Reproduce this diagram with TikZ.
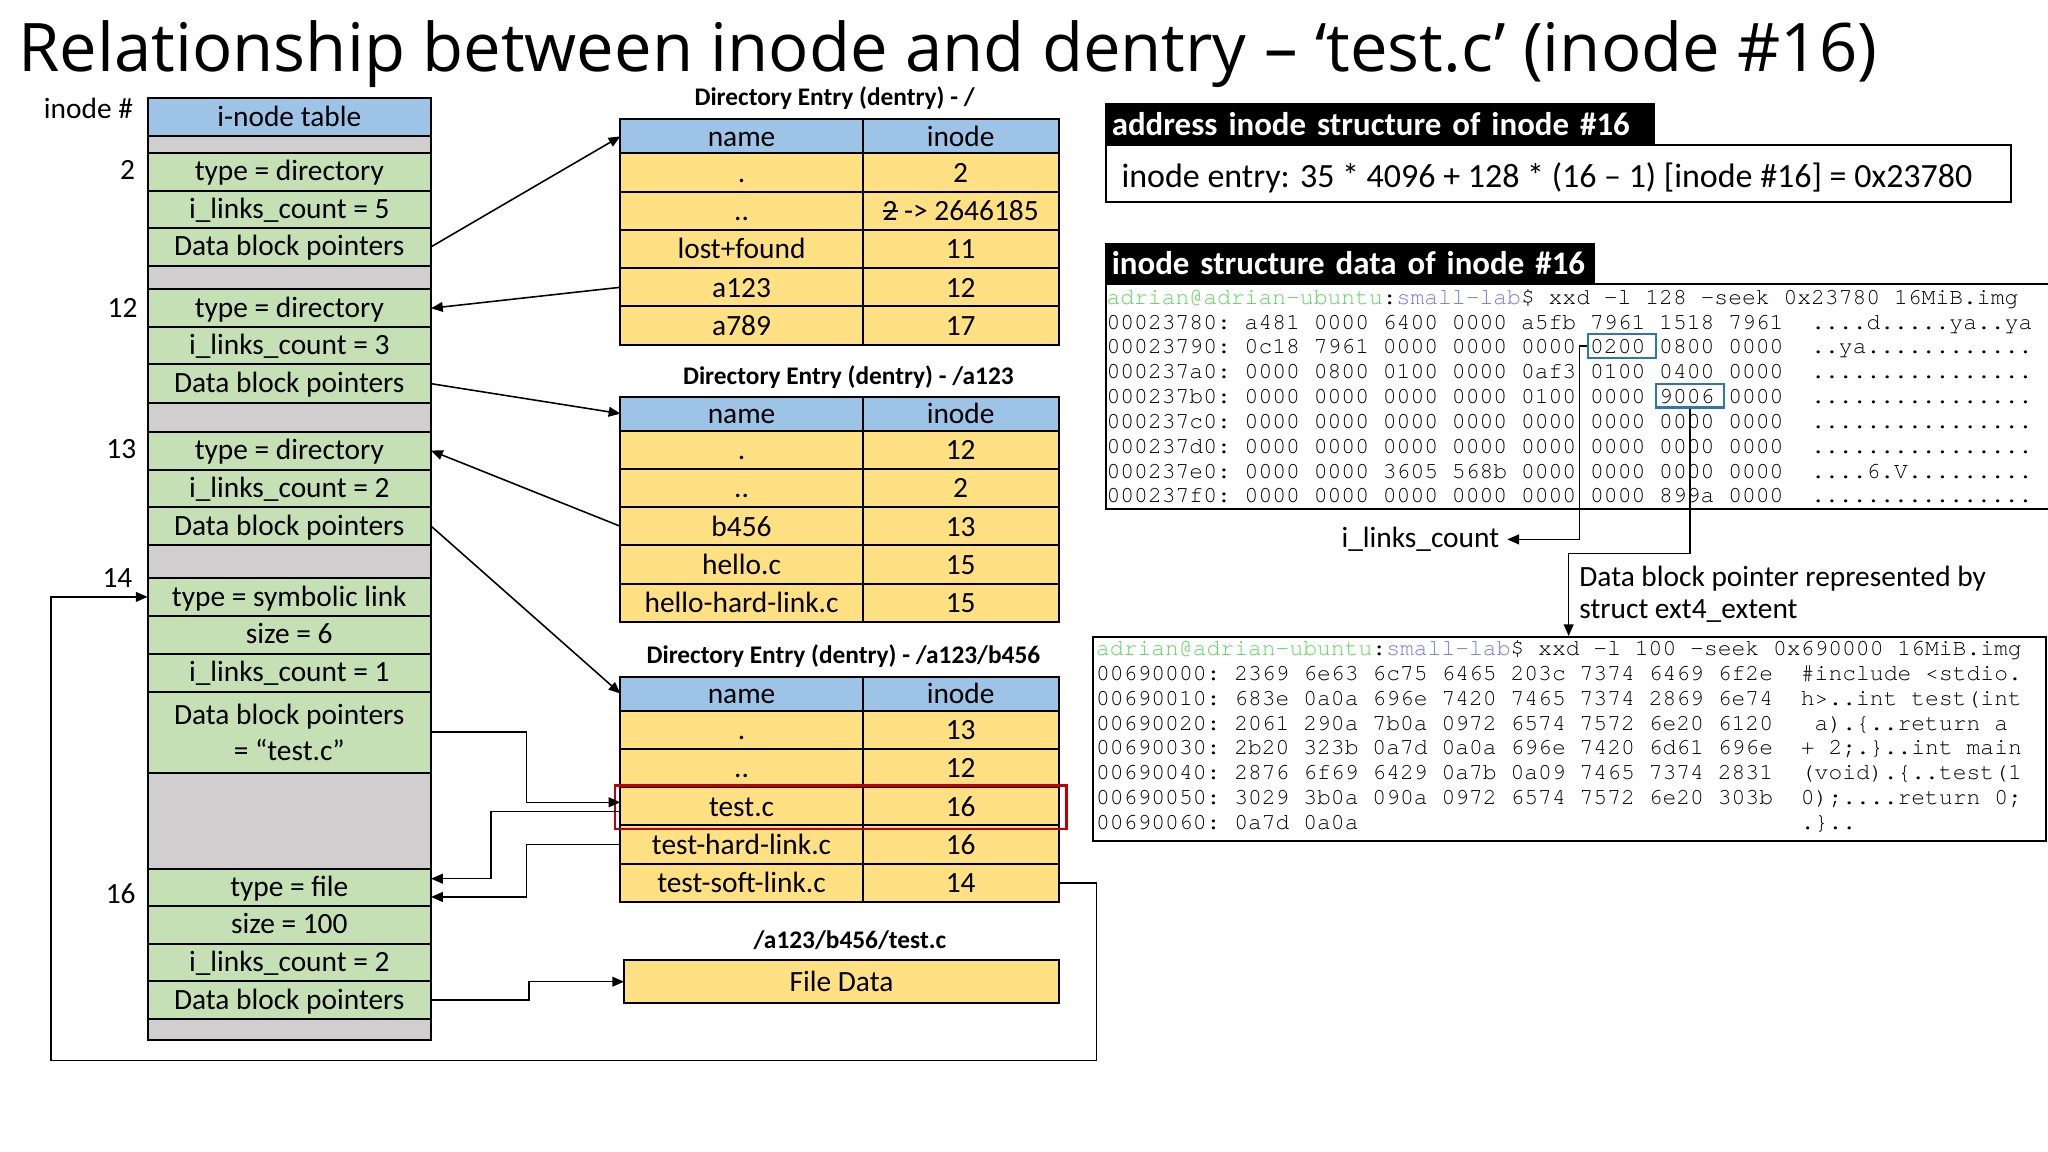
\documentclass[tikz,border=0pt]{standalone}
\usepackage{fontspec}
\setmainfont{Carlito}
\setmonofont{TeX Gyre Cursor}
\newfontfamily\mybigfont{Open Sans}
\usetikzlibrary{arrows.meta,calc}
\definecolor{hdrblue}{HTML}{9DC3E6}
\definecolor{cellgreen}{HTML}{C5E0B4}
\definecolor{cellgray}{HTML}{D0CECE}
\definecolor{cellyellow}{HTML}{FFE083}
\definecolor{hlred}{HTML}{C00000}
\definecolor{hlblue}{HTML}{2E75B6}
\definecolor{termgreen}{HTML}{5CD65C}
\definecolor{termpurple}{HTML}{7878E6}
\newcommand\tabfont{\fontsize{22.5}{27.5}\selectfont}
\newcommand\ttlfont{\bfseries\fontsize{19.4}{23}\selectfont}
\newcommand\lblfont{\bfseries\fontsize{25.2}{30}\selectfont}
\newcommand\addrfont{\fontsize{26}{30}\selectfont}
\newcommand\hexfont{\ttfamily\fontsize{17.63}{19}\selectfont}
\newcommand\bigttl{\mybigfont\fontsize{51.3}{60}\selectfont}
\newcommand\icell[5]{\node[#4, minimum height={#3-#2}] (#1) at (221.5,{(#2+#3)/2}) {#5};}
\newcommand\dhead[2]{%
  \node[dcell, fill=hdrblue, minimum width=185.5, minimum height=26, anchor=north west] (#1nh) at (475,#2) {name};
  \node[dcell, fill=hdrblue, minimum width=150, minimum height=26, anchor=north west] (#1ih) at (660.5,#2) {inode};}
\newcommand\drow[5]{%
  \node[dcell, minimum width=185.5, minimum height=29.3, anchor=north west] (#1n#2) at (475,#3) {#4};
  \node[dcell, minimum width=150, minimum height=29.3, anchor=north west] (#1i#2) at (660.5,#3) {#5};}
\begin{document}
\begin{tikzpicture}[x=1pt,y=-1pt,
  cellbase/.style={draw, line width=1.5pt, inner sep=0pt, outer sep=0pt, minimum width=217pt, font=\tabfont},
  igreen/.style={cellbase, fill=cellgreen, text height=16.6pt, text depth=2.6pt},
  igreentwo/.style={cellbase, fill=cellgreen, align=center},
  igray/.style={cellbase, fill=cellgray},
  ihead/.style={cellbase, fill=hdrblue, text height=16.6pt, text depth=2.6pt},
  dcell/.style={draw, line width=1.5pt, inner sep=0pt, outer sep=0pt, fill=cellyellow, font=\tabfont, text height=17.6pt, text depth=2.4pt},
  lbl/.style={inner sep=0pt, font=\tabfont},
  ttl/.style={inner sep=0pt, font=\ttlfont},
  arr/.style={line width=1.2pt, -{Triangle[length=9pt,width=7.5pt]}},
  hex/.style={inner sep=0pt, anchor=base west, font=\hexfont},
  blk/.style={fill=black, text=white, font=\lblfont, anchor=north west, inner xsep=5pt, inner ysep=0pt, align=left, minimum height=31pt},
  hlbox/.style={draw=hlblue, line width=1.6pt, minimum width=52pt, minimum height=18pt, inner sep=0pt}
]
\fill[white] (0,0) rectangle (1568,882);
\useasboundingbox (0,0) rectangle (1568,882);

% title
\node[anchor=base west, inner sep=0pt, font=\bigttl] (title) at (14,55) {Relationship between inode and dentry – ‘test.c’ (inode \#16)};

% inode numbers
\node[lbl, anchor=east] (lblinode) at (102,83) {inode \#};
\node[lbl, anchor=east] (n2) at (103.5,130) {2};
\node[lbl, anchor=east] (n12) at (105.5,236) {12};
\node[lbl, anchor=east] (n13) at (104.5,344) {13};
\node[lbl, anchor=east] (n14) at (101.5,442.5) {14};
\node[lbl, anchor=east] (n16) at (104,684) {16};

% inode table
\icell{hdr}{75}{104}{ihead}{i-node table}
\icell{g1}{104}{117}{igray}{}
\icell{a2}{117}{146}{igreen}{type = directory}
\icell{b2}{146}{174.5}{igreen}{i\_links\_count = 5}
\icell{c2}{174.5}{203.5}{igreen}{Data block pointers}
\icell{g2}{203.5}{221.5}{igray}{}
\icell{a12}{221.5}{250.5}{igreen}{type = directory}
\icell{b12}{250.5}{279}{igreen}{i\_links\_count = 3}
\icell{c12}{279}{308.5}{igreen}{Data block pointers}
\icell{g3}{308.5}{330.5}{igray}{}
\icell{a13}{330.5}{359.5}{igreen}{type = directory}
\icell{b13}{359.5}{388}{igreen}{i\_links\_count = 2}
\icell{c13}{388}{417.5}{igreen}{Data block pointers}
\icell{g4}{417.5}{442.5}{igray}{}
\icell{a14}{442.5}{471.5}{igreen}{type = symbolic link}
\icell{b14}{471.5}{500.5}{igreen}{size = 6}
\icell{c14}{500.5}{529.5}{igreen}{i\_links\_count = 1}
\icell{d14}{529.5}{591.5}{igreentwo}{Data block pointers\\= “test.c”}
\icell{g5}{591.5}{665}{igray}{}
\icell{a16}{665}{693.5}{igreen}{type = file}
\icell{b16}{693.5}{722.5}{igreen}{size = 100}
\icell{c16}{722.5}{751}{igreen}{i\_links\_count = 2}
\icell{d16}{751}{780.5}{igreen}{Data block pointers}
\icell{g6}{780.5}{796}{igray}{}

% dentry /
\node[ttl] (t1) at (639,75.3) {Directory Entry (dentry) - /};
\dhead{p}{91.4}
\drow{p}{1}{117.4}{.}{2}
\drow{p}{2}{146.7}{..}{{\makebox[0pt][l]{\rule[0.3em]{0.52em}{0.07em}}2} -> 2646185}
\drow{p}{3}{176.0}{lost+found}{11}
\drow{p}{4}{205.3}{a123}{12}
\drow{p}{5}{234.6}{a789}{17}

% dentry /a123
\node[ttl] (t2) at (649.5,288.4) {Directory Entry (dentry) - /a123};
\dhead{q}{303.7}
\drow{q}{1}{329.7}{.}{12}
\drow{q}{2}{359.0}{..}{2}
\drow{q}{3}{388.3}{b456}{13}
\drow{q}{4}{417.6}{hello.c}{15}
\drow{q}{5}{446.9}{hello-hard-link.c}{15}

% dentry /a123/b456
\node[ttl] (t3) at (645.7,502.3) {Directory Entry (dentry) - /a123/b456};
\dhead{r}{518}
\drow{r}{1}{544}{.}{13}
\drow{r}{2}{573.3}{..}{12}
\drow{r}{3}{602.6}{test.c}{16}
\drow{r}{4}{631.9}{test-hard-link.c}{16}
\drow{r}{5}{661.2}{test-soft-link.c}{14}
\node[draw=hlred, line width=2pt, minimum width=345.8pt, minimum height=33.2pt, inner sep=0pt] (hl) at (643.8,618.1) {};

% file data
\node[ttl] (t4) at (650.7,719.7) {/a123/b456/test.c};
\node[dcell, minimum width=333pt, minimum height=33.2pt] (fd) at (644.3,751.6) {File Data};

% connectors
\draw[arr] (c2.east) -- (pnh.west);
\draw[arr] (pn4.west) -- (a12.east);
\draw[arr] (c12.east) -- (qnh.west);
\draw[arr] (qn3.west) -- (a13.east);
\draw[arr] (c13.east) -- (rnh.west);
\draw[arr] (d14.east) -- ++(73,0) |- ([yshift=3pt]rn3.west);
\draw[arr] ([yshift=-4pt]rn3.west) -- ++(-99,0) |- ([yshift=6.5pt]a16.east);
\draw[arr] (rn4.west) -- ++(-72,0) |- ([yshift=-7.5pt]a16.east);
\draw[arr] (d16.east) -- ++(75,0) |- (fd.west);
\coordinate (loopc) at (39,812);
\draw[arr] (ri5.east) -- ++(29,0) |- (loopc) |- (a14.west);

% right side: address
\node[blk, text width=411pt] (addrlbl) at (846,79) {\mbox{address inode structure of inode \#16}};
\node[draw, line width=1.5pt, minimum width=693pt, minimum height=44pt, anchor=north west, inner sep=0pt] (addrbox) at (846,110) {};
\node[anchor=west, inner sep=0pt, font=\addrfont] (addrtxt) at (858.5,136.5) {inode entry: 35 * 4096 + 128 * (16 – 1) [inode \#16] = 0x23780};

% inode structure data
\node[blk, text width=365pt] (datalbl) at (846,186) {\mbox{inode structure data of inode \#16}};
\node[draw, line width=1.5pt, minimum width=724pt, minimum height=172pt, anchor=north west, inner sep=0pt] (hex1) at (846,217) {};
\node[hex] (h1cmd) at (847,233) {\textcolor{termgreen}{adrian@adrian-ubuntu}:\textcolor{termpurple}{small-lab}\$ xxd -l 128 -seek 0x23780 16MiB.img};
\foreach \hx/\as [count=\k] in {
  {00023780: a481 0000 6400 0000 a5fb 7961 1518 7961}/{....d.....ya..ya},
  {00023790: 0c18 7961 0000 0000 0000 0200 0800 0000}/{..ya............},
  {000237a0: 0000 0800 0100 0000 0af3 0100 0400 0000}/{................},
  {000237b0: 0000 0000 0000 0000 0100 0000 9006 0000}/{................},
  {000237c0: 0000 0000 0000 0000 0000 0000 0000 0000}/{................},
  {000237d0: 0000 0000 0000 0000 0000 0000 0000 0000}/{................},
  {000237e0: 0000 0000 3605 568b 0000 0000 0000 0000}/{....6.V.........},
  {000237f0: 0000 0000 0000 0000 0000 0000 899a 0000}/{................}}
{
  \node[hex] (h1x\k) at (847,{233+19*\k}) {\hx};
  \node[hex] (h1a\k) at ({847+51*10.58},{233+19*\k}) {\as};
}
\node[hlbox] (b0200) at (1242,265) {};
\node[hlbox] (b9006) at (1294,303) {};

\node[lbl, anchor=east, text height=16pt, text depth=3pt] (ilc) at (1148,413) {i\_links\_count};
\draw[arr] (b0200.west) -- ++(-6,0) |- ([xshift=6pt]ilc.east);

\node[anchor=west, inner sep=0pt, align=left, font=\fontsize{22.5}{24.2}\selectfont] (dbl) at (1209,455) {Data block pointer represented by\\struct ext4\_extent};

% file content dump
\node[draw, line width=1.5pt, minimum width=730pt, minimum height=156pt, anchor=north west, inner sep=0pt] (hex2) at (836,487) {};
\coordinate (dbptip) at (1201,487);
\draw[arr] (b9006.south) -- ++(0,111) -| (dbptip);
\node[hex] (h2cmd) at (839,502) {\textcolor{termgreen}{adrian@adrian-ubuntu}:\textcolor{termpurple}{small-lab}\$ xxd -l 100 -seek 0x690000 16MiB.img};
\foreach \hx/\as [count=\k] in {
  {00690000: 2369 6e63 6c75 6465 203c 7374 6469 6f2e}/{\#include <stdio.},
  {00690010: 683e 0a0a 696e 7420 7465 7374 2869 6e74}/{h>..int test(int},
  {00690020: 2061 290a 7b0a 0972 6574 7572 6e20 6120}/{\phantom{a}a).\{..return a},
  {00690030: 2b20 323b 0a7d 0a0a 696e 7420 6d61 696e}/{+ 2;.\}..int main},
  {00690040: 2876 6f69 6429 0a7b 0a09 7465 7374 2831}/{(void).\{..test(1},
  {00690050: 3029 3b0a 090a 0972 6574 7572 6e20 303b}/{0);....return 0;},
  {00690060: 0a7d 0a0a}/{.\}..}}
{
  \node[hex] (h2x\k) at (839,{502+19*\k}) {\hx};
  \node[hex] (h2a\k) at ({839+51*10.58},{502+19*\k}) {\as};
}
\end{tikzpicture}
\end{document}
